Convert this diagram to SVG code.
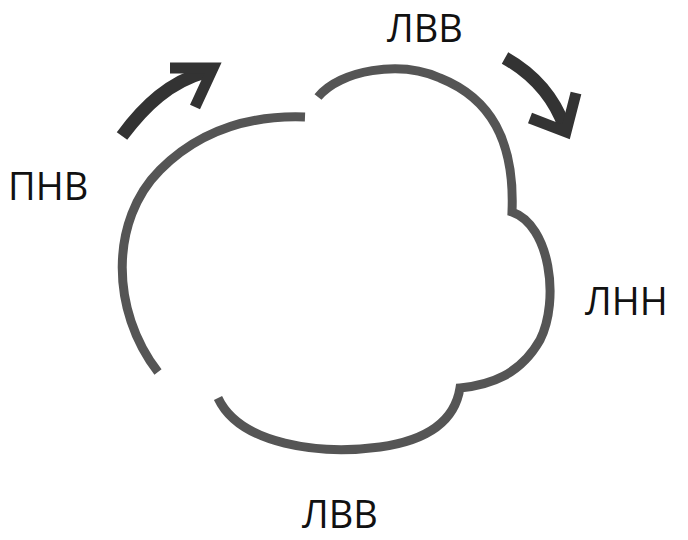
<svg xmlns="http://www.w3.org/2000/svg" width="688" height="540" viewBox="0 0 688 540">
<style>
.c{fill:none;stroke:#555;stroke-width:9;stroke-linecap:butt}
.a{fill:none;stroke:#333;stroke-width:13}
.h{fill:none;stroke:#333;stroke-width:11;stroke-linejoin:miter}
text{font-family:"Open Sans","Noto Sans",sans-serif;font-size:38px;fill:#111}
</style>
<rect width="688" height="540" fill="#fff"/>
<g id="cloud">
<path class="c" d="M158,372 C110,310 110,220 160,170 C200,130 250,115 305,117"/>
<path class="c" d="M318,97 C340,70 400,60 440,78 C490,98 515,140 512,212 C550,225 560,300 540,340 C520,375 490,385 460,388 C455,420 430,440 380,447 C320,455 240,445 218,398"/>
</g>
<g id="arrows">
<path class="a" d="M122,136 C145,105 170,82 205,72"/>
<path class="h" d="M170,68 L213,68 L195,107"/>
<path class="a" d="M505,58 C535,75 555,100 565,128"/>
<path class="h" d="M530,118 L566,132 L576,93"/>
</g>
<text x="8" y="200">ПНВ</text>
<text x="387" y="42">ЛВВ</text>
<text x="585" y="315">ЛНН</text>
<text x="302" y="528">ЛВВ</text>
</svg>
